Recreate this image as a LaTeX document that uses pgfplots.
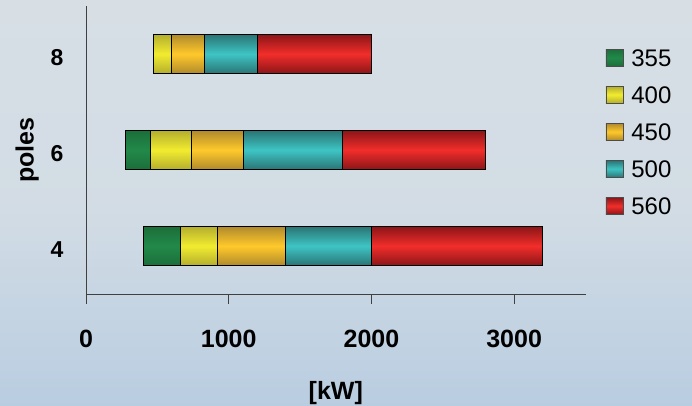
\documentclass[border=0pt]{standalone}
\usepackage{fontspec}
\setmainfont{Liberation Sans}
\usepackage{pgfplots}
\pgfplotsset{compat=1.18}
\definecolor{gD}{HTML}{1B6E38}\definecolor{gM}{HTML}{22894A}
\definecolor{yD}{HTML}{B3AE2E}\definecolor{yM}{HTML}{F2EC2F}
\definecolor{oD}{HTML}{B08A2C}\definecolor{oM}{HTML}{FFC92B}
\definecolor{cD}{HTML}{2A7474}\definecolor{cM}{HTML}{3EC4C4}
\definecolor{rD}{HTML}{8C1518}\definecolor{rM}{HTML}{F22E2A}
\definecolor{bgT}{HTML}{D7DFE5}\definecolor{bgB}{HTML}{B9CDE1}
\definecolor{axc}{HTML}{404040}
\pgfplotsset{
  sG/.style={draw=black, line width=0.8pt, top color=gD, bottom color=gD, middle color=gM},
  sY/.style={draw=black, line width=0.8pt, top color=yD, bottom color=yD, middle color=yM},
  sO/.style={draw=black, line width=0.8pt, top color=oD, bottom color=oD, middle color=oM},
  sC/.style={draw=black, line width=0.8pt, top color=cD, bottom color=cD, middle color=cM},
  sR/.style={draw=black, line width=0.8pt, top color=rD, bottom color=rD, middle color=rM},
  base/.style={at={(86pt,112pt)}, anchor=south west,
    width=499.5pt, height=288pt, scale only axis,
    xbar stacked, bar width=39pt,
    xmin=0, xmax=3500, ymin=0, ymax=3, clip=false},
}
\begin{document}
\begin{tikzpicture}[x=1pt,y=1pt]
\shade[top color=bgT, bottom color=bgB, middle color=bgT!85!bgB] (0,0) rectangle (692,406);
\useasboundingbox (0,0) rectangle (692,406);
% row: 4 poles, with axes and legend
\begin{axis}[base,
  axis x line=bottom, axis y line=left,
  axis line style={-, draw=axc, line width=0.9pt},
  xtick={0,1000,2000,3000},
  ytick={0.5,1.5,2.5}, yticklabels={4,6,8},
  tick align=outside, major tick length=10pt,
  xtick style={draw=axc, line width=0.9pt},
  ytick style={draw=none},
  /pgf/number format/assume math mode=true,
  /pgf/number format/set thousands separator={},
  xticklabel style={font=\bfseries\fontsize{25}{30}\selectfont, yshift=-23pt},
  yticklabel style={font=\bfseries\fontsize{23}{28}\selectfont, xshift=-9pt, yshift=-4pt},
  xlabel={[kW]}, ylabel={poles},
  xlabel style={font=\bfseries\fontsize{25}{30}\selectfont, at={(rel axis cs:0.5,0)}, anchor=center, yshift=-99pt},
  ylabel style={font=\bfseries\fontsize{25}{30}\selectfont, at={(rel axis cs:-0.118,0.5)}, anchor=center},
  legend style={at={(rel axis cs:1.04,0.852)}, anchor=north west, draw=none, fill=none,
    font=\fontsize{24}{29}\selectfont, row sep=19.5pt, inner sep=0pt,
    nodes={inner sep=0pt, text depth=0pt}},
  legend cell align=left,
  legend image code/.code={\draw[#1, draw=black!70, line width=0.6pt] (0pt,-8.5pt) rectangle (17pt,8.5pt); \path (25pt,0pt);},
]
\addplot[draw=none, fill=none, forget plot] coordinates {(400,0.5)};
\addplot[sG] coordinates {(260,0.5)};
\addplot[sY] coordinates {(260,0.5)};
\addplot[sO] coordinates {(480,0.5)};
\addplot[sC] coordinates {(600,0.5)};
\addplot[sR] coordinates {(1200,0.5)};
\legend{355,400,450,500,560}
\end{axis}
% row: 6 poles
\begin{axis}[base, hide axis]
\addplot[draw=none, fill=none] coordinates {(275,1.5)};
\addplot[sG] coordinates {(175,1.5)};
\addplot[sY] coordinates {(290,1.5)};
\addplot[sO] coordinates {(360,1.5)};
\addplot[sC] coordinates {(700,1.5)};
\addplot[sR] coordinates {(1000,1.5)};
\end{axis}
% row: 8 poles (no 355 kW)
\begin{axis}[base, hide axis]
\addplot[draw=none, fill=none] coordinates {(475,2.5)};
\addplot[sY] coordinates {(125,2.5)};
\addplot[sO] coordinates {(230,2.5)};
\addplot[sC] coordinates {(370,2.5)};
\addplot[sR] coordinates {(800,2.5)};
\end{axis}
\end{tikzpicture}
\end{document}
